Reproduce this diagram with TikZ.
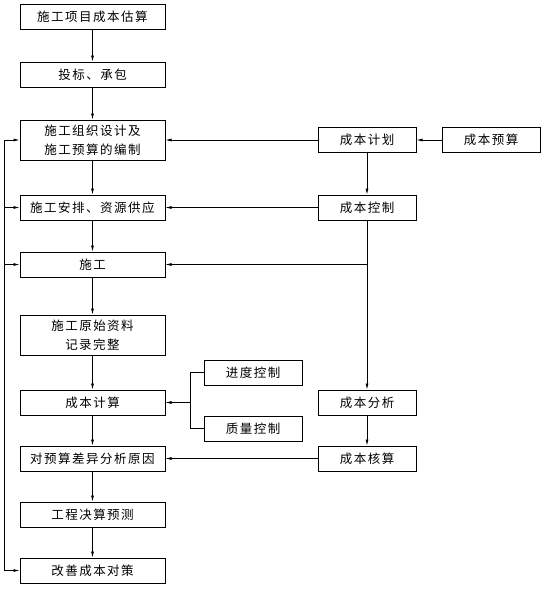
\documentclass[tikz,border=0pt]{standalone}
\usepackage{fontspec}
\setmainfont[LetterSpace=12]{Noto Sans CJK SC}
\usepackage{tikz}
\usetikzlibrary{arrows.meta,positioning,calc}
\tikzset{
  box/.style={rectangle, draw=black, fill=white, line width=1pt,
              align=center, inner sep=2pt, font=\fontsize{12.5pt}{19pt}\selectfont,
              minimum width=145pt, minimum height=25pt},
  boxsm/.style={box, minimum width=98pt},
  fl/.style={-{Latex[length=6pt,width=3pt]}, line width=0.7pt},
  ln/.style={line width=0.7pt},
}
\begin{document}
\begin{tikzpicture}[x=1pt, y=1pt, node distance=32pt]
  \useasboundingbox (0,0) rectangle (553,-595);
  % main column
  \node[box] (s1) at (92.5,-16.5) {施工项目成本估算};
  \node[box, below=of s1] (s2) {投标、承包};
  \node[box, below=of s2, minimum height=40pt] (s3) {施工组织设计及\\施工预算的编制};
  \node[box, below=34pt of s3] (s4) {施工安排、资源供应};
  \node[box, below=31pt of s4] (s5) {施工};
  \node[box, below=37pt of s5, minimum height=40pt] (s6) {施工原始资料\\记录完整};
  \node[box, below=34pt of s6] (s7) {成本计算};
  \node[box, below=30pt of s7] (s8) {对预算差异分析原因};
  \node[box, below=30pt of s8] (s9) {工程决算预测};
  \node[box, below=30pt of s9] (s10) {改善成本对策};
  % cost side
  \node[boxsm, right=152pt of s3] (plan) {成本计划};
  \node[boxsm, right=25pt of plan] (budget) {成本预算};
  \node[boxsm, right=152pt of s4] (ctrl) {成本控制};
  \node[boxsm, right=152pt of s7] (anal) {成本分析};
  \node[boxsm, right=152pt of s8] (acct) {成本核算};
  \node[boxsm, anchor=west] (sched) at ($(s7.east)+(38pt,30pt)$) {进度控制};
  \node[boxsm, anchor=west] (qual) at ($(s7.east)+(38pt,-26pt)$) {质量控制};
  \coordinate (br) at ($(s7.east)+(25pt,0)$);
  \coordinate (fb) at ($(s3.west)+(-15pt,0)$);
  % flow
  \draw[fl] (s1)--(s2); \draw[fl] (s2)--(s3); \draw[fl] (s3)--(s4);
  \draw[fl] (s4)--(s5); \draw[fl] (s5)--(s6); \draw[fl] (s6)--(s7);
  \draw[fl] (s7)--(s8); \draw[fl] (s8)--(s9); \draw[fl] (s9)--(s10);
  \draw[fl] (budget)--(plan); \draw[fl] (plan)--(s3);
  \draw[fl] (plan)--(ctrl); \draw[fl] (ctrl)--(s4);
  \draw[fl] (ctrl)--(anal); \draw[fl] (ctrl.south |- s5.east)--(s5.east);
  \draw[fl] (anal)--(acct); \draw[fl] (acct)--(s8);
  \draw[ln] (sched.west) -| (br) |- (qual.west);
  \draw[fl] (br)--(s7.east);
  % feedback
  \draw[fl] (fb)--(s3.west);
  \draw[fl] (fb) |- (s10.west);
  \draw[fl] (fb |- s4.west)--(s4.west);
  \draw[fl] (fb |- s5.west)--(s5.west);
\end{tikzpicture}
\end{document}
